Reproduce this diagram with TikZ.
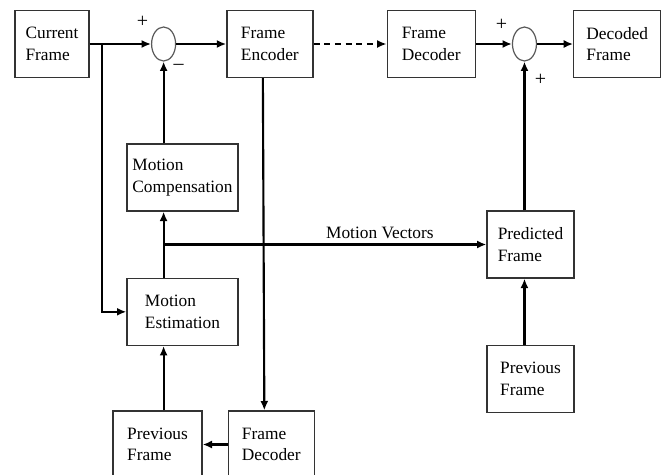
\documentclass[tikz,border=0pt]{standalone}
\usepackage{fontspec}
\setmainfont{Liberation Serif}
\usetikzlibrary{shapes.geometric, arrows.meta, positioning, calc}

\begin{document}
\begin{tikzpicture}[x=0.75pt, y=-0.75pt,
  every node/.style={font=\fontsize{13}{16}\selectfont},
  block/.style={rectangle, draw=black!80, line width=1pt, minimum height=50.25pt, align=left, inner sep=2pt},
  summer/.style={ellipse, draw=black!65, line width=0.9pt, minimum width=18pt, minimum height=25.5pt, inner sep=0pt},
  sign/.style={inner sep=0pt},
  flow/.style={-{Latex[length=7pt,width=6pt]}, line width=1.6pt}]
\useasboundingbox (0,0) rectangle (668,475);

% top row: encoder and decoder
\node (cur) [block, minimum width=55.5pt] at (52,44) {Current\\Frame};
\node (sum1) [summer, right=46pt of cur] {};
\node (enc) [block, minimum width=64.5pt, right=37.5pt of sum1] {Frame\\Encoder};
\node (dec) [block, minimum width=66pt, right=54.75pt of enc] {Frame\\Decoder};
\node (sum2) [summer, right=27pt of dec] {};
\node (out) [block, minimum width=65.25pt, right=27pt of sum2] {Decoded\\Frame};

% motion loop
\node (mc) [block, minimum width=83.25pt] at (182.5,177.5) {Motion\\Compensation};
\node (me) [block, minimum width=83.25pt, below=49.5pt of mc] {Motion\\Estimation};
\node (prevb) [block, minimum width=66.75pt] at (157.5,444.5) {Previous\\Frame};
\node (fdb) [block, minimum width=64.5pt, right=18.75pt of prevb] {Frame\\Decoder};

% decoder side
\node (pred) [block, minimum width=65.25pt] at (530.5,244.5) {Predicted\\Frame};
\node (prevr) [block, minimum width=65.25pt, below=49.5pt of pred] {Previous\\Frame};

% signs
\node (p1) [sign, font=\fontsize{15}{16}\selectfont] at ([shift={(-15.75pt,16.5pt)}]sum1) {+};
\node (m1) [sign, font=\fontsize{15}{16}\selectfont] at ([shift={(11.25pt,-17.25pt)}]sum1) {–};
\node (p2) [sign, font=\fontsize{15}{16}\selectfont] at ([shift={(-17.25pt,14.25pt)}]sum2) {+};
\node (p3) [sign, font=\fontsize{15}{16}\selectfont] at ([shift={(12pt,-27pt)}]sum2) {+};

\coordinate [right=9pt of cur.east] (tap);
\coordinate (mvtap) at (sum1 |- pred);

\draw[flow] (cur) -- (sum1);
\draw[flow] (tap) |- (me);
\draw[flow] (sum1) -- (enc);
\draw[flow, dashed, dash pattern=on 4.5pt off 3.5pt] (enc) -- (dec);
\draw[flow] (dec) -- (sum2);
\draw[flow] (sum2) -- (out);
\draw[flow] (sum1 |- mc.north) -- (sum1.south);
\draw[flow] (sum1 |- me.north) -- (sum1 |- mc.south);
\draw[flow] (mvtap) -- (pred) node[pos=0.67, above] {Motion Vectors};
\draw[flow] (sum1 |- prevb.north) -- (sum1 |- me.south);
\draw[flow] ([xshift=-5.25pt]enc.south) -- ([xshift=-5.25pt]fdb.north);
\draw[flow] (fdb) -- (prevb);
\draw[flow] (sum2 |- prevr.north) -- (sum2 |- pred.south);
\draw[flow] (sum2 |- pred.north) -- (sum2.south);
\end{tikzpicture}
\end{document}
